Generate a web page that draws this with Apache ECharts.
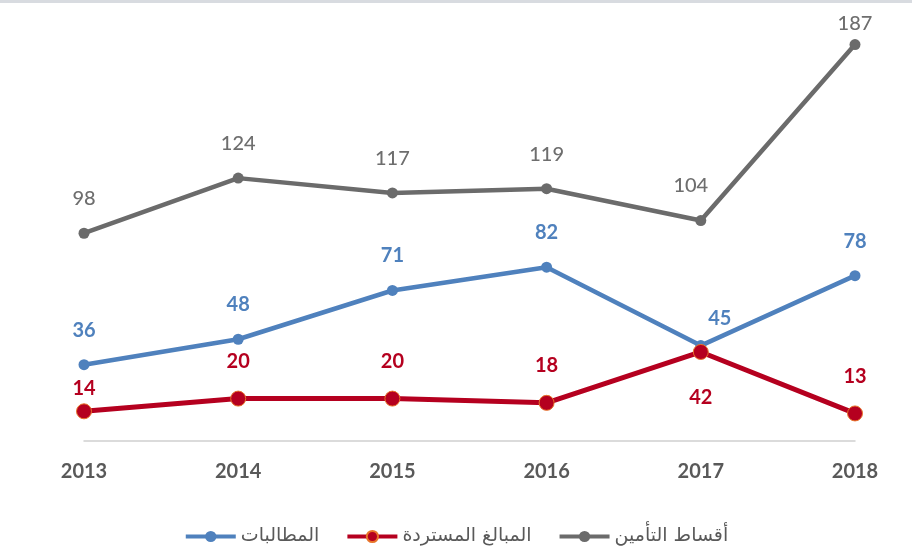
<!DOCTYPE html>
<html>
<head>
<meta charset="utf-8">
<script src="https://cdn.jsdelivr.net/npm/echarts@6/dist/echarts.min.js"></script>
<style>
html, body { margin: 0; padding: 0; background: #fff; }
#chart { width: 912px; height: 552px; }
</style>
</head>
<body>
<div id="chart"></div>
<script>
// data
var years = ['2013', '2014', '2015', '2016', '2017', '2018'];
var premiums = [98, 124, 117, 119, 104, 187];   // أقساط التأمين
var claims = [36, 48, 71, 82, 45, 78];          // المطالبات
var recovered = [14, 20, 20, 18, 42, 13];       // المبالغ المستردة

var names = {
    premiums: 'أقساط التأمين',
    claims: 'المطالبات',
    recovered: 'المبالغ المستردة'
};

var font = 'Lato, "Open Sans", sans-serif';

// per point label tweaks (index -> label options)
function points(values, tweaks) {
    return values.map(function(v, i) {
        var item = { value: v };
        if (tweaks[i]) item.label = tweaks[i];
        return item;
    });
}

function lineSeries(name, values, color, labelColor, opts) {
    return Object.assign({
        name: name,
        type: 'line',
        data: values,
        symbol: 'circle',
        symbolSize: 11,
        lineStyle: { color: color, width: 4.5 },
        itemStyle: { color: color },
        label: {
            show: true,
            position: 'top',
            distance: 19,
            color: labelColor,
            fontFamily: font,
            fontSize: 20,
            fontWeight: 'bold'
        },
        emphasis: { disabled: true },
        animation: false
    }, opts || {});
}

var chart = echarts.init(document.getElementById('chart'));

chart.setOption({
    backgroundColor: '#ffffff',
    grid: { left: 84, right: 57, top: 17, bottom: 111 },
    legend: {
        bottom: 1,
        left: 'center',
        itemWidth: 50,
        itemHeight: 14,
        itemGap: 26,
        data: [names.claims, names.recovered, names.premiums],
        lineStyle: { width: 4 },
        textStyle: { color: '#595959', fontSize: 19, fontFamily: '"DejaVu Sans", sans-serif' }
    },
    xAxis: {
        type: 'category',
        data: years,
        boundaryGap: false,
        axisLine: { lineStyle: { color: '#d0d0d0', width: 1.5 } },
        axisTick: { show: false },
        axisLabel: {
            color: '#595959',
            fontFamily: font,
            fontSize: 20,
            fontWeight: 'bold',
            margin: 21
        }
    },
    yAxis: {
        type: 'value',
        min: 0,
        max: 200,
        show: false,
        splitLine: { show: false }
    },
    graphic: [{
        type: 'rect',
        left: 0,
        top: 0,
        shape: { width: 912, height: 3 },
        style: { fill: '#d8dbe0' }
    }],
    series: [
        lineSeries(names.premiums, points(premiums, {
            4: { offset: [-10, 0] },
            5: { distance: 6 }
        }), '#6b6b6b', '#737373', {
            label: {
                show: true, position: 'top', distance: 19, color: '#6e6e6e',
                fontFamily: font, fontSize: 20, fontWeight: 500
            }
        }),
        lineSeries(names.claims, points(claims, {
            4: { offset: [19, 0], distance: 12 }
        }), '#4f81bd', '#4f81bd'),
        lineSeries(names.recovered, points(recovered, {
            0: { distance: 5 },
            4: { position: 'bottom', distance: 28 }
        }), '#b5001f', '#b5001f', {
            symbolSize: 15,
            lineStyle: { color: '#b5001f', width: 5 },
            itemStyle: { color: '#b5001f', borderColor: '#e8742a', borderWidth: 1 }
        })
    ]
});
</script>
</body>
</html>
